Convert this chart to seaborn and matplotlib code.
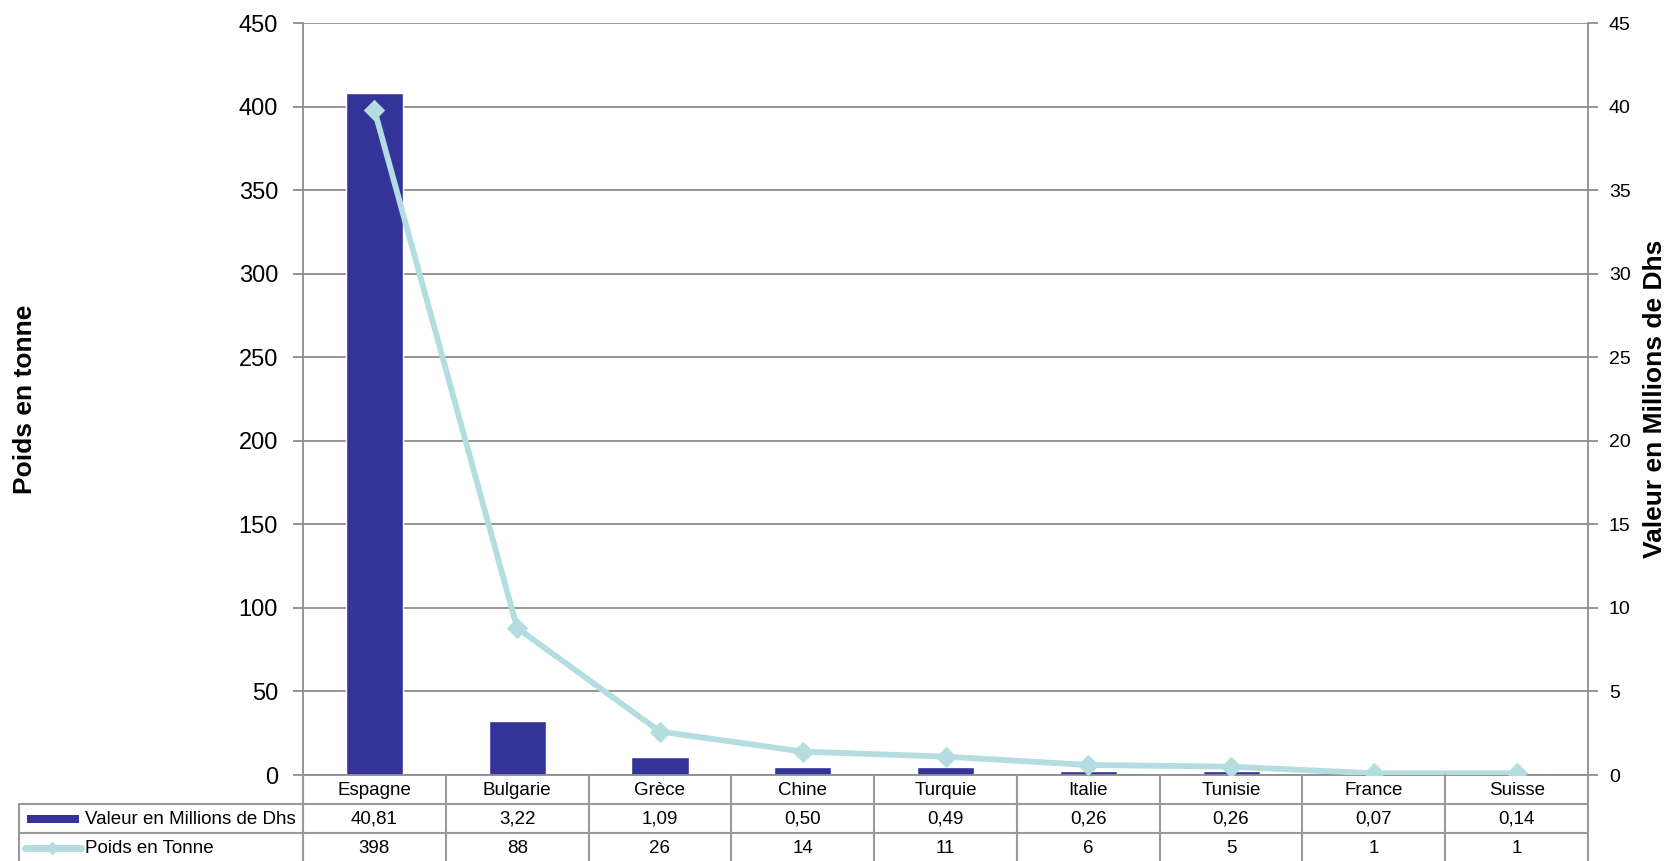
import numpy as np
import matplotlib
matplotlib.use("Agg")
import matplotlib.pyplot as plt
import matplotlib.transforms as mtransforms
from matplotlib.lines import Line2D
from matplotlib.patches import Rectangle
import seaborn as sns

# Data
pays = ["Espagne", "Bulgarie", "Grèce", "Chine", "Turquie", "Italie", "Tunisie", "France", "Suisse"]
valeur_mdh = [40.81, 3.22, 1.09, 0.50, 0.49, 0.26, 0.26, 0.07, 0.14]
poids_tonne = [398, 88, 26, 14, 11, 6, 5, 1, 1]
poids_ticks = list(range(0, 451, 50))
valeur_ticks = list(range(0, 46, 5))
serie_valeur = "Valeur en Millions de Dhs"
serie_poids = "Poids en Tonne"
titre_gauche = "Poids en tonne"
titre_droite = "Valeur en Millions de Dhs"

BAR = "#333399"
LINE = "#B4DDE1"
GRID = "#8C8C8C"
TABLE = "#9A9A9A"

sns.set_theme(style="white")
plt.rcParams["font.family"] = ["Liberation Sans", "DejaVu Sans"]
plt.rcParams["text.color"] = "black"

W, H = 1669, 861
fig = plt.figure(figsize=(W / 100, H / 100), dpi=100)
fig.patch.set_facecolor("white")


def fx(x):
    return x / W


def fy(y):
    return 1 - y / H


# plot area (pixel layout)
L, R, T, B = 303, 1588, 23, 775
ax = fig.add_axes([fx(L), fy(B), fx(R - L), (B - T) / H])

# bars: value series, right-hand scale
sns.barplot(x=pays, y=valeur_mdh, ax=ax, color=BAR, width=0.4, saturation=1, zorder=2)
ax.set_ylim(0, 45)
ax.set_xlim(-0.5, len(pays) - 0.5)
ax.set_yticks(valeur_ticks)
ax.set_xlabel("")
ax.set_ylabel("")
ax.grid(axis="y", color=GRID, linewidth=1.3, zorder=0)
ax.grid(axis="x", visible=False)
ax.set_axisbelow(True)
for side in ["left", "right", "bottom", "top"]:
    ax.spines[side].set_color(GRID)
    ax.spines[side].set_linewidth(1.3)
ax.spines["top"].set_visible(False)

# line: weight series, left-hand scale
ax2 = ax.twinx()
sns.lineplot(x=np.arange(len(pays)), y=poids_tonne, ax=ax2, color=LINE, linewidth=4.2,
             marker="D", markersize=10, markeredgecolor=LINE, markerfacecolor=LINE, sort=False)
ax2.set_ylim(0, 450)
ax2.set_yticks(poids_ticks)
ax2.set_ylabel("")
for side in ["left", "right", "bottom", "top"]:
    ax2.spines[side].set_visible(False)
ax2.grid(False)

# tick sides: weight on the left, value on the right
ax.yaxis.tick_right()
ax2.yaxis.tick_left()
ax.tick_params(axis="x", length=0, labelbottom=False)
ax.tick_params(axis="y", which="both", left=False, labelleft=False, right=True, labelright=True,
               direction="out", length=7, width=1.3, color=GRID,
               labelsize=14, labelcolor="black", pad=8)
ax2.tick_params(axis="y", which="both", right=False, labelright=False, left=True, labelleft=True,
                direction="out", length=7, width=1.3, color=GRID,
                labelsize=17, labelcolor="black", pad=11)

# axis titles
fig.text(fx(25), fy((T + B) / 2), titre_gauche, rotation=90, ha="center", va="center",
         fontsize=19, fontweight="bold", color="black")
fig.text(fx(1655), fy((T + B) / 2), titre_droite, rotation=90, ha="center", va="center",
         fontsize=19, fontweight="bold", color="black")

# data table under the plot
blend = mtransforms.blended_transform_factory(ax.transData, fig.transFigure)
row_top, row1, row2, row_bot = 775, 804, 833, 862
y_head, y_val, y_poids = (row_top + row1) / 2 + 1, (row1 + row2) / 2 + 1, (row2 + row_bot) / 2 + 1
tleft = 19
n = len(pays)

for i in range(n + 1):
    fig.add_artist(Line2D([i - 0.5, i - 0.5], [fy(row_top), fy(H + 5)], transform=blend,
                          color=TABLE, linewidth=1.5, clip_on=False))
for yl in (row1, row2):
    fig.add_artist(Line2D([fx(tleft), fx(R)], [fy(yl), fy(yl)], transform=fig.transFigure,
                          color=TABLE, linewidth=1.5))
fig.add_artist(Line2D([fx(tleft), fx(tleft)], [fy(row1), fy(H + 5)], transform=fig.transFigure,
                      color=TABLE, linewidth=1.5))

for i, name in enumerate(pays):
    fig.text(i, fy(y_head), name, transform=blend, ha="center", va="center", fontsize=13.5)
    fig.text(i, fy(y_val), f"{valeur_mdh[i]:.2f}".replace(".", ","), transform=blend,
             ha="center", va="center", fontsize=13.5)
    fig.text(i, fy(y_poids), f"{poids_tonne[i]}", transform=blend,
             ha="center", va="center", fontsize=13.5)

# legend keys in the table
fig.add_artist(Rectangle((fx(27), fy(823)), fx(52), 8 / H, transform=fig.transFigure,
                         facecolor=BAR, edgecolor="none"))
fig.add_artist(Line2D([fx(25), fx(81)], [fy(y_poids - 1), fy(y_poids - 1)], transform=fig.transFigure,
                      color=LINE, linewidth=5, solid_capstyle="round"))
fig.add_artist(Line2D([fx(52)], [fy(y_poids - 1)], transform=fig.transFigure, color=LINE,
                      marker="D", markersize=6, markeredgecolor=LINE, linestyle="none"))
fig.text(fx(85), fy(y_val), serie_valeur, ha="left", va="center", fontsize=13.5)
fig.text(fx(85), fy(y_poids), serie_poids, ha="left", va="center", fontsize=13.5)

fig.savefig("out.png", dpi=100, facecolor="white")
